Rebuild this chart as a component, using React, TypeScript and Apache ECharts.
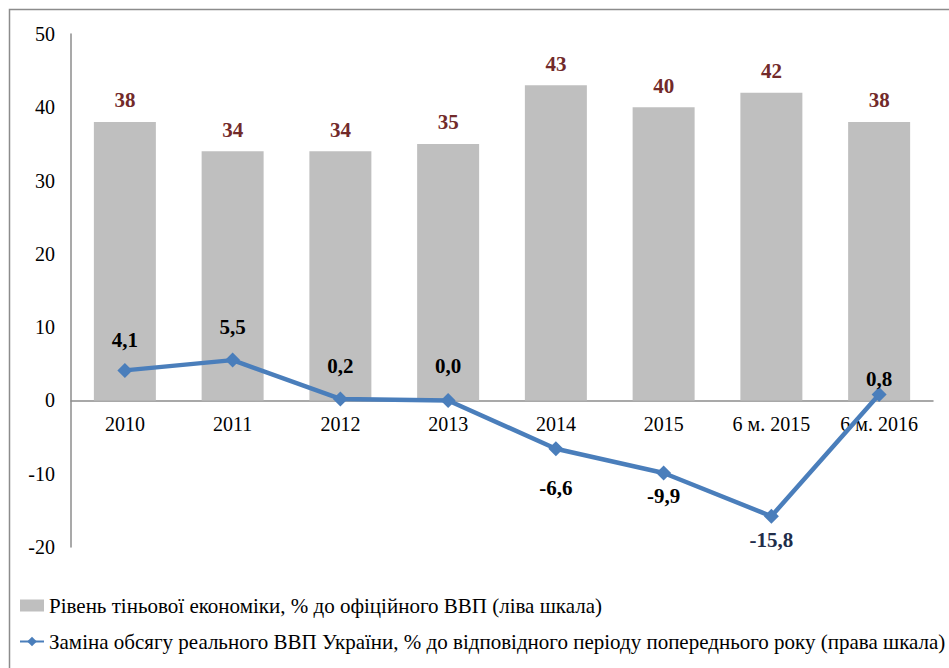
import React, { useEffect, useRef } from "react";
import * as echarts from "echarts";

const categories = ["2010", "2011", "2012", "2013", "2014", "2015", "6 м. 2015", "6 м. 2016"];
const shadowEconomy = [38, 34, 34, 35, 43, 40, 42, 38];
const gdpChange = [4.1, 5.5, 0.2, 0.0, -6.6, -9.9, -15.8, 0.8];
const leftTicks = [-20, -10, 0, 10, 20, 30, 40, 50];

const barName = "Рівень тіньової економіки, % до офіційного ВВП (ліва шкала)";
const lineName = "Заміна обсягу реального ВВП України, % до відповідного періоду попереднього року (права шкала)";

const FONT = "Liberation Serif";
const GRID_TOP = 34;
const GRID_BOTTOM = 121;
const CHART_H = 668;

// label offsets (px) of line value labels, per point
const lineLabelDistance = [12, 15, 15, 16, 21, 5, 6, -2];

export default function App() {
  const ref = useRef<HTMLDivElement>(null);
  useEffect(() => {
    if (!ref.current) return;
    const chart = echarts.init(ref.current, null, { renderer: "svg" });
    const minV = leftTicks[0];
    const maxV = leftTicks[leftTicks.length - 1];
    const plotH = CHART_H - GRID_TOP - GRID_BOTTOM;
    const zeroOffset = -((0 - minV) / (maxV - minV)) * plotH;
    const lineData = gdpChange.map((v, i) => {
      const neg = v < 0;
      const label: any = {
        position: neg ? "bottom" : "top",
        distance: lineLabelDistance[i],
      };
      if (i === 6) label.color = "#1F2D4A";
      return { value: v, label };
    });
    chart.setOption({
      animation: false,
      textStyle: { fontFamily: FONT },
      graphic: [
        {
          type: "rect",
          shape: { x: 9.5, y: 9.5, width: 1000, height: 1000 },
          style: { fill: "none", stroke: "#8c8c8c", lineWidth: 1.5 },
          silent: true,
        },
      ],
      grid: { left: 71, right: 16, top: GRID_TOP, bottom: GRID_BOTTOM, containLabel: false },
      legend: {
        orient: "vertical",
        left: 14,
        top: 590,
        itemGap: 15,
        itemWidth: 24,
        itemHeight: 12,
        textStyle: { fontFamily: FONT, fontSize: 21, color: "#000" },
        data: [
          { name: barName, icon: "rect" },
          { name: lineName },
        ],
      },
      xAxis: {
        type: "category",
        data: categories,
        offset: zeroOffset,
        axisLine: { onZero: false, lineStyle: { color: "#8c8c8c", width: 1.5 } },
        axisTick: { show: false },
        axisLabel: { interval: 0, fontFamily: FONT, fontSize: 20, color: "#000", margin: 14 },
      },
      yAxis: {
        type: "value",
        min: minV,
        max: maxV,
        interval: 10,
        axisLine: { show: true, lineStyle: { color: "#8c8c8c", width: 1.5 } },
        axisTick: { show: false },
        splitLine: { show: false },
        axisLabel: { fontFamily: FONT, fontSize: 20, color: "#000", margin: 16 },
      },
      series: [
        {
          name: barName,
          type: "bar",
          data: shadowEconomy,
          barWidth: 62,
          itemStyle: { color: "#BFBFBF" },
          label: {
            show: true,
            position: "top",
            distance: 11,
            fontFamily: FONT,
            fontWeight: "bold",
            fontSize: 21,
            color: "#722A2A",
          },
        },
        {
          name: lineName,
          type: "line",
          data: lineData,
          symbol: "diamond",
          symbolSize: 15,
          lineStyle: { color: "#4A7EBB", width: 4.5 },
          itemStyle: { color: "#4A7EBB" },
          label: {
            show: true,
            fontFamily: FONT,
            fontWeight: "bold",
            fontSize: 21,
            color: "#000",
            formatter: (p: any) => Number(p.value).toFixed(1).replace(".", ","),
          },
        },
      ],
    });
    return () => chart.dispose();
  }, []);
  return (
    <div
      ref={ref}
      style={{ position: "fixed", left: 0, top: 0, width: 949, height: 668, background: "#fff" }}
    />
  );
}
